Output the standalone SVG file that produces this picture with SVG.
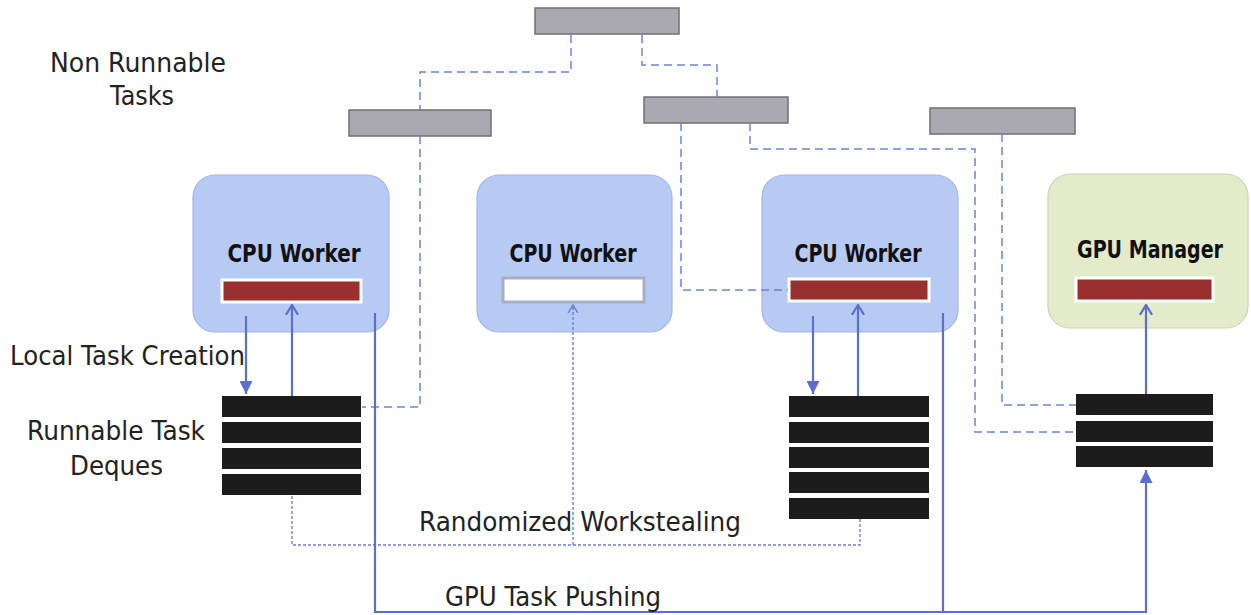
<svg xmlns="http://www.w3.org/2000/svg" width="1251" height="615" viewBox="0 0 1251 615">
<style>
.gray{fill:#aaa8b0;stroke:#707074;stroke-width:1.5}
.cpu{fill:#b7caf3;stroke:#a3b6e6;stroke-width:1.2}
.gpu{fill:#e3ebcb;stroke:#cbd4b4;stroke-width:1.2}
.red{fill:#9a2f2f;stroke:#ffffff;stroke-width:3}
.empty{fill:#ffffff;stroke:#a8aec8;stroke-width:3}
.dq{fill:#1c1c1c}
.lbl{font-family:"DejaVu Sans","Liberation Sans",sans-serif;font-weight:bold;font-size:24px;fill:#111}
.txt{font-family:"DejaVu Sans","Liberation Sans",sans-serif;font-size:26px;fill:#222}
.dash{fill:none;stroke:#6b84db;stroke-width:1.5;stroke-dasharray:8 5}
.dot{fill:none;stroke:#6b80d6;stroke-width:1.4;stroke-dasharray:3 2}
.solid{fill:none;stroke:#5a6fd0;stroke-width:2.2}
</style>
<defs>
<marker id="fill" viewBox="0 0 10 10" refX="10" refY="5" markerUnits="userSpaceOnUse" markerWidth="16" markerHeight="13" orient="auto">
<path d="M0,0 L10,5 L0,10 z" fill="#5a6fd0"/>
</marker>
<marker id="open" viewBox="0 0 10 12" refX="9" refY="6" markerUnits="userSpaceOnUse" markerWidth="11" markerHeight="15" orient="auto">
<path d="M0,0.5 L9,6 L0,11.5" fill="none" stroke="#5a6fd0" stroke-width="2"/>
</marker>
<marker id="openDot" viewBox="0 0 10 12" refX="9" refY="6" markerUnits="userSpaceOnUse" markerWidth="9" markerHeight="13" orient="auto">
<path d="M0,0.5 L9,6 L0,11.5" fill="none" stroke="#6b80d6" stroke-width="1.6"/>
</marker>
</defs>

<g id="nr-top"><rect class="gray" x="535" y="8" width="144" height="26"/></g>
<g id="nr-left"><rect class="gray" x="349" y="110" width="142" height="26"/></g>
<g id="nr-mid"><rect class="gray" x="644" y="97" width="144" height="26"/></g>
<g id="nr-right"><rect class="gray" x="930" y="108" width="145" height="26"/></g>

<g id="cpu1">
<rect class="cpu" x="193" y="175" width="196" height="157" rx="22"/>
<text class="lbl" x="294" y="262" text-anchor="middle" textLength="133" lengthAdjust="spacingAndGlyphs">CPU Worker</text>
<rect class="red" x="222" y="280" width="139" height="22"/>
</g>
<g id="cpu2">
<rect class="cpu" x="477" y="175" width="195" height="157" rx="22"/>
<text class="lbl" x="573" y="262" text-anchor="middle" textLength="127" lengthAdjust="spacingAndGlyphs">CPU Worker</text>
<rect class="empty" x="503" y="278" width="141" height="24"/>
</g>
<g id="cpu3">
<rect class="cpu" x="762" y="175" width="196" height="157" rx="22"/>
<text class="lbl" x="858" y="262" text-anchor="middle" textLength="127" lengthAdjust="spacingAndGlyphs">CPU Worker</text>
<rect class="red" x="789" y="279" width="140" height="22"/>
</g>
<g id="gpu">
<rect class="gpu" x="1048" y="174" width="200" height="154" rx="22"/>
<text class="lbl" x="1150" y="258" text-anchor="middle" textLength="146" lengthAdjust="spacingAndGlyphs">GPU Manager</text>
<rect class="red" x="1076" y="278" width="137" height="23"/>
</g>

<g id="deque1">
<rect class="dq" x="222" y="396" width="139" height="21"/>
<rect class="dq" x="222" y="422" width="139" height="21"/>
<rect class="dq" x="222" y="448" width="139" height="21"/>
<rect class="dq" x="222" y="474" width="139" height="21"/>
</g>
<g id="deque3">
<rect class="dq" x="789" y="396" width="140" height="21"/>
<rect class="dq" x="789" y="422" width="140" height="21"/>
<rect class="dq" x="789" y="447" width="140" height="21"/>
<rect class="dq" x="789" y="472" width="140" height="21"/>
<rect class="dq" x="789" y="498" width="140" height="21"/>
</g>
<g id="dequeGpu">
<rect class="dq" x="1076" y="394" width="137" height="21"/>
<rect class="dq" x="1076" y="421" width="137" height="21"/>
<rect class="dq" x="1076" y="446" width="137" height="21"/>
</g>

<g id="connectors">
<path class="dash" d="M571,35 V72 H420 V110"/>
<path class="dash" d="M420,136 V407 H362"/>
<path class="dash" d="M642,35 V65 H717 V97"/>
<path class="dash" d="M681,123 V290 H788"/>
<path class="dash" d="M750,123 V149 H975 V432 H1076"/>
<path class="dash" d="M1002,134 V405 H1076"/>
<path class="dot" d="M292,496 V545 H860 V519"/>
<path class="dot" d="M573,545 V305" marker-end="url(#openDot)"/>
<path class="solid" d="M246,316 V394" marker-end="url(#fill)"/>
<path class="solid" d="M292,396 V305" marker-end="url(#open)"/>
<path class="solid" d="M813,316 V394" marker-end="url(#fill)"/>
<path class="solid" d="M858,396 V305" marker-end="url(#open)"/>
<path class="solid" d="M1146,394 V305" marker-end="url(#open)"/>
<path class="solid" d="M375,313 V612 H1146 V470" marker-end="url(#fill)"/>
<path class="solid" d="M943,313 V612"/>
</g>

<g id="labels">
<text class="txt" x="50" y="72" textLength="176" lengthAdjust="spacingAndGlyphs">Non Runnable</text>
<text class="txt" x="110" y="105" textLength="64" lengthAdjust="spacingAndGlyphs">Tasks</text>
<text class="txt" x="10" y="365" textLength="235" lengthAdjust="spacingAndGlyphs">Local Task Creation</text>
<text class="txt" x="27" y="440" textLength="178" lengthAdjust="spacingAndGlyphs">Runnable Task</text>
<text class="txt" x="70" y="475" textLength="93" lengthAdjust="spacingAndGlyphs">Deques</text>
<text class="txt" x="419" y="531" textLength="322" lengthAdjust="spacingAndGlyphs">Randomized  Workstealing</text>
<text class="txt" x="445" y="606" textLength="216" lengthAdjust="spacingAndGlyphs">GPU Task Pushing</text>
</g>
</svg>
